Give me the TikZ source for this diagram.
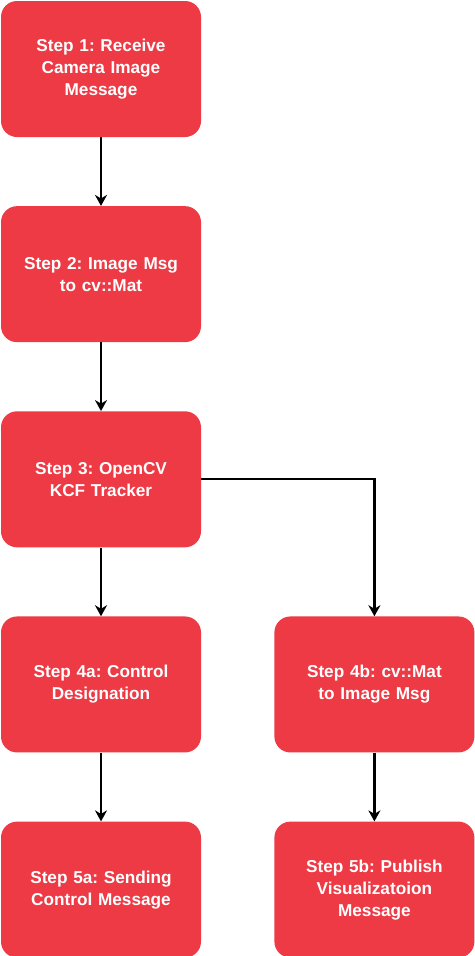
\documentclass[tikz,border=0pt]{standalone}
\usepackage{fontspec}
\setmainfont{Liberation Sans}
\frenchspacing
\usetikzlibrary{positioning,arrows.meta}
\definecolor{stepred}{RGB}{237,58,69}
\tikzset{
stepbox/.style={
  rectangle,
  rounded corners=16pt,
  fill=stepred,
  minimum width=200pt,
  minimum height=136pt,
  text width=190pt,
  align=center,
  text=white,
  font=\fontsize{17.2}{22}\selectfont\bfseries
  },
flow/.style={
  -{Stealth[length=11pt,width=12pt,inset=3.5pt]},
  line width=2.3pt
  }
}

\begin{document}
\begin{tikzpicture}[x=1pt, y=1pt, node distance=68.75pt and 73pt]
\useasboundingbox (0,0) rectangle (474,-956);

\node[stepbox] at (101,-69) (s1) {Step 1: Receive\\Camera Image\\Message};
\node[stepbox, below=of s1] (s2) {Step 2: Image Msg\\to cv::Mat};
\node[stepbox, below=of s2] (s3) {Step 3: OpenCV\\KCF Tracker};
\node[stepbox, below=of s3] (s4a) {Step 4a: Control\\Designation};
\node[stepbox, right=of s4a] (s4b) {Step 4b: cv::Mat\\to Image Msg};
\node[stepbox, below=of s4a] (s5a) {Step 5a: Sending\\Control Message};
\node[stepbox, below=of s4b] (s5b) {Step 5b: Publish\\Visualizatoion\\Message};

\draw[flow] (s1) -- (s2);
\draw[flow] (s2) -- (s3);
\draw[flow] (s3) -- (s4a);
\draw[flow] (s3.east) -| (s4b.north);
\draw[flow] (s4a) -- (s5a);
\draw[flow] (s4b) -- (s5b);
\end{tikzpicture}
\end{document}
